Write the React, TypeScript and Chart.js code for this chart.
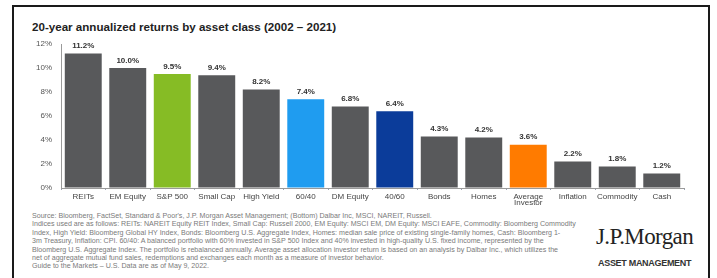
import React, { useEffect, useRef } from "react";
import { Chart, registerables } from "chart.js";

Chart.register(...registerables);

const categories: (string | string[])[] = [
  "REITs", "EM Equity", "S&P 500", "Small Cap", "High Yield", "60/40", "DM Equity",
  "40/60", "Bonds", "Homes", ["Average", "Investor"], "Inflation", "Commodity", "Cash",
];
const returnsPct: number[] = [11.2, 10.0, 9.5, 9.4, 8.2, 7.4, 6.8, 6.4, 4.3, 4.2, 3.6, 2.2, 1.8, 1.2];
const barColors: string[] = [
  "#58595b", "#58595b", "#86bc25", "#58595b", "#58595b", "#1f9cf0", "#58595b",
  "#0b3c9a", "#58595b", "#58595b", "#ff7b00", "#58595b", "#58595b", "#58595b",
];
const yTicks: number[] = [0, 2, 4, 6, 8, 10, 12];

const footLines: string[] = [
  "Source: Bloomberg, FactSet, Standard & Poor's, J.P. Morgan Asset Management; (Bottom) Dalbar Inc, MSCI, NAREIT, Russell.",
  "Indices used are as follows: REITs: NAREIT Equity REIT Index, Small Cap: Russell 2000, EM Equity: MSCI EM, DM Equity: MSCI EAFE, Commodity: Bloomberg Commodity",
  "Index, High Yield: Bloomberg Global HY Index, Bonds: Bloomberg U.S. Aggregate Index, Homes: median sale price of existing single-family homes, Cash: Bloomberg 1-",
  "3m Treasury, Inflation: CPI. 60/40: A balanced portfolio with 60% invested in S&P 500 Index and 40% invested in high-quality U.S. fixed income, represented by the",
  "Bloomberg U.S. Aggregate Index. The portfolio is rebalanced annually. Average asset allocation investor return is based on an analysis by Dalbar Inc., which utilizes the",
  "net of aggregate mutual fund sales, redemptions and exchanges each month as a measure of investor behavior.",
  "Guide to the Markets \u2013 U.S. Data are as of May 9, 2022.",
];

const valueLabelPlugin = {
  id: "valueLabels",
  afterDatasetsDraw(chart: any) {
    const ctx = chart.ctx;
    const meta = chart.getDatasetMeta(0);
    ctx.save();
    ctx.font = "bold 8px 'Liberation Sans', Arial, sans-serif";
    ctx.fillStyle = "#333";
    ctx.textAlign = "center";
    ctx.textBaseline = "alphabetic";
    meta.data.forEach((bar: any, i: number) => {
      ctx.fillText(returnsPct[i].toFixed(1) + "%", bar.x, bar.y - 5.5);
    });
    ctx.restore();
  },
};

export default function App() {
  const ref = useRef<HTMLCanvasElement>(null);
  useEffect(() => {
    if (!ref.current) return;
    const chart = new Chart(ref.current, {
      type: "bar",
      data: {
        labels: categories,
        datasets: [
          {
            data: returnsPct,
            backgroundColor: barColors,
            barPercentage: 0.83,
            categoryPercentage: 1,
          },
        ],
      },
      options: {
        responsive: false,
        animation: false,
        devicePixelRatio: 1,
        layout: { padding: { left: 0, right: 33, top: 44, bottom: 68 } },
        plugins: { legend: { display: false }, tooltip: { enabled: false }, title: { display: false } },
        scales: {
          x: {
            afterFit: (s: any) => { s.height = 22; },
            grid: { display: true, drawOnChartArea: false, drawTicks: true, tickLength: 2, color: "#9aa3b5" },
            border: { display: true, color: "#9a9a9a", width: 1 },
            ticks: {
              color: "#444",
              font: { size: 8, family: "'Liberation Sans', Arial, sans-serif", lineHeight: 0.85 },
              padding: 3,
              maxRotation: 0,
              autoSkip: false,
            },
          },
          y: {
            min: 0,
            max: 12,
            afterFit: (s: any) => { s.width = 61; },
            afterBuildTicks: (s: any) => { s.ticks = yTicks.map((v) => ({ value: v })); },
            grid: { display: true, drawOnChartArea: false, drawTicks: false, color: "rgba(0,0,0,0)" },
            border: { display: true, color: "#9a9a9a", width: 1 },
            ticks: {
              color: "#555",
              font: { size: 8, family: "'Liberation Sans', Arial, sans-serif" },
              padding: 9,
              callback: (v: any) => v + "%",
            },
          },
        },
      },
      plugins: [valueLabelPlugin],
    } as any);
    return () => chart.destroy();
  }, []);

  return (
    <div style={{ position: "fixed", left: 0, top: 0, width: 717, height: 278, background: "#fff", overflow: "hidden" }}>
      <div style={{ position: "absolute", left: 12, top: 5, width: 694, height: 290, border: "2px solid #1a1a1a" }} />
      <div
        style={{
          position: "absolute", left: 32, top: 20, fontFamily: "'Liberation Sans', Arial, sans-serif",
          fontWeight: "bold", fontSize: 11.6, color: "#222", whiteSpace: "nowrap",
        }}
      >
        20-year annualized returns by asset class (2002 – 2021)
      </div>
      <div
        style={{
          position: "absolute", left: 32, top: 212, fontFamily: "'Liberation Sans', Arial, sans-serif",
          fontSize: 7.1, lineHeight: "8.4px", color: "#7a7a7a", whiteSpace: "nowrap",
        }}
      >
        {footLines.map((l, i) => (
          <div key={i}>{l}</div>
        ))}
      </div>
      <div
        style={{
          position: "absolute", left: 596, top: 224, fontFamily: "'Liberation Serif', 'Times New Roman', serif",
          fontSize: 23, letterSpacing: -0.6, color: "#222", whiteSpace: "nowrap",
        }}
      >
        J.P.Morgan
      </div>
      <div
        style={{
          position: "absolute", left: 598, top: 258, fontFamily: "'Liberation Sans', Arial, sans-serif",
          fontSize: 9, fontWeight: 600, color: "#333", whiteSpace: "nowrap", letterSpacing: -0.3,
        }}
      >
        ASSET MANAGEMENT
      </div>
      <canvas ref={ref} width={717} height={278} style={{ position: "absolute", left: 0, top: 0, width: 717, height: 278 }} />
    </div>
  );
}
